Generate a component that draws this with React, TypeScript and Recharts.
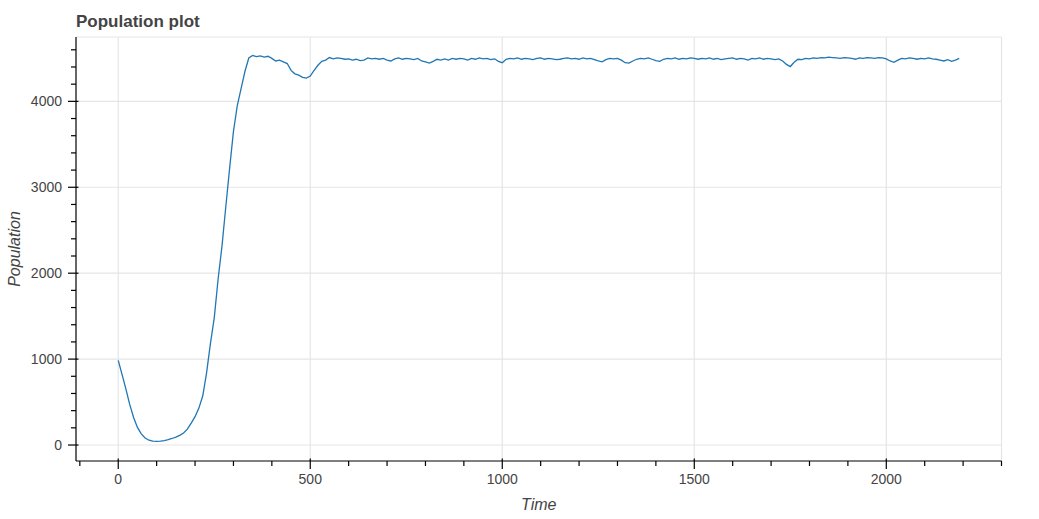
import { LineChart, Line, XAxis, YAxis, CartesianGrid } from 'recharts';

const TIME_STEP = 10;
const POPULATION = [
  985, 820, 650, 470, 320, 205, 130, 82, 56, 45,
  42, 45, 52, 63, 76, 92, 112, 140, 185, 255,
  330, 430, 570, 840, 1180, 1480, 1930, 2310, 2770, 3220,
  3650, 3950, 4150, 4350, 4505, 4535, 4520, 4530, 4515, 4525,
  4500, 4470, 4480, 4460, 4440, 4360, 4320, 4305, 4280, 4270,
  4295, 4360, 4420, 4465, 4480, 4510, 4495, 4505, 4500, 4490,
  4495, 4480, 4490, 4475, 4480, 4505, 4495, 4500, 4490, 4500,
  4480, 4470, 4495, 4505, 4490, 4500, 4495, 4485, 4500, 4470,
  4460, 4445, 4465, 4490, 4480, 4495, 4480, 4500, 4490, 4500,
  4495, 4480, 4500, 4490, 4505, 4495, 4500, 4485, 4495, 4465,
  4450, 4490, 4500, 4495, 4505, 4490, 4500, 4495, 4485, 4500,
  4505, 4490, 4500, 4495, 4485, 4490, 4500, 4505, 4495, 4500,
  4490, 4505, 4495, 4500, 4485, 4470, 4460, 4485, 4500, 4495,
  4500, 4480, 4450, 4445, 4470, 4490, 4500, 4495, 4505, 4490,
  4475, 4465, 4490, 4500, 4495, 4505, 4490, 4500, 4495, 4505,
  4500, 4490, 4500, 4495, 4505, 4490, 4500, 4485, 4495, 4500,
  4505, 4490, 4500, 4495, 4480, 4500, 4495, 4505, 4490, 4500,
  4495, 4485, 4495, 4470, 4430, 4405, 4455, 4490, 4485, 4500,
  4495, 4505, 4500, 4510, 4505, 4515, 4510, 4505, 4500, 4510,
  4505, 4500, 4490, 4505, 4500, 4510, 4505, 4500, 4510, 4505,
  4495, 4470, 4455, 4480, 4500, 4495, 4505, 4500, 4490, 4500,
  4495, 4505, 4495, 4490, 4480, 4470, 4485, 4465, 4480, 4500,
];

const X_MAJOR = [0, 500, 1000, 1500, 2000];
const X_TICKS = [
  -100, 0, 100, 200, 300, 400, 500, 600, 700, 800, 900, 1000, 1100, 1200,
  1300, 1400, 1500, 1600, 1700, 1800, 1900, 2000, 2100, 2200, 2300,
];
const Y_MAJOR = [0, 1000, 2000, 3000, 4000];
const Y_TICKS = [
  0, 200, 400, 600, 800, 1000, 1200, 1400, 1600, 1800, 2000, 2200, 2400,
  2600, 2800, 3000, 3200, 3400, 3600, 3800, 4000, 4200, 4400, 4600,
];

const X_DOMAIN = [-110, 2300];
const Y_DOMAIN = [-186, 4749];

const data = POPULATION.map((pop, i) => ({ time: i * TIME_STEP, pop }));

const FONT = '"Liberation Sans", Helvetica, Arial, sans-serif';
const TEXT = '#444444';

function XTick({ x, y, payload }: any) {
  const major = X_MAJOR.includes(payload.value);
  return (
    <g>
      <line x1={x} x2={x} y1={y - (major ? 2.5 : 0)} y2={y + (major ? 8 : 5)} stroke="#000" strokeWidth={1.2} />
      {major && (
        <text x={x} y={y + 23} textAnchor="middle" fill={TEXT} fontSize={14} fontFamily={FONT}>
          {payload.value}
        </text>
      )}
    </g>
  );
}

function YTick({ x, y, payload }: any) {
  const major = Y_MAJOR.includes(payload.value);
  return (
    <g>
      <line x1={x + (major ? 2.5 : 0)} x2={x - (major ? 8 : 5)} y1={y} y2={y} stroke="#000" strokeWidth={1.2} />
      {major && (
        <text x={x - 14} y={y + 5} textAnchor="end" fill={TEXT} fontSize={14} fontFamily={FONT}>
          {payload.value}
        </text>
      )}
    </g>
  );
}

export default function App() {
  return (
    <div style={{ position: 'absolute', left: 0, top: 0, width: 1039, height: 519, background: '#fff' }}>
      <div
        style={{
          position: 'absolute', left: 76, top: 12, fontFamily: FONT, fontSize: 17,
          fontWeight: 'bold', color: TEXT, whiteSpace: 'nowrap',
        }}
      >
        Population plot
      </div>
      <LineChart
        width={1039}
        height={519}
        data={data}
        margin={{ top: 37, right: 37.5, bottom: 0, left: 0 }}
      >
        <CartesianGrid
          stroke="#e5e5e5"
          strokeWidth={1.2}
          horizontalValues={[...Y_MAJOR, Y_DOMAIN[1]]}
          verticalValues={[...X_MAJOR, X_DOMAIN[1]]}
        />
        <XAxis
          dataKey="time"
          type="number"
          domain={X_DOMAIN}
          allowDataOverflow
          ticks={X_TICKS}
          interval={0}
          height={58}
          tickSize={0}
          tickMargin={0}
          tickLine={false}
          axisLine={{ stroke: '#000', strokeWidth: 1.2 }}
          tick={<XTick />}
        />
        <YAxis
          type="number"
          domain={Y_DOMAIN}
          allowDataOverflow
          ticks={Y_TICKS}
          interval={0}
          width={76}
          tickSize={0}
          tickMargin={0}
          tickLine={false}
          axisLine={{ stroke: '#000', strokeWidth: 1.2 }}
          tick={<YTick />}
        />
        <Line
          type="linear"
          dataKey="pop"
          stroke="#1f77b4"
          strokeWidth={1.3}
          dot={false}
          isAnimationActive={false}
        />
      </LineChart>
      <div
        style={{
          position: 'absolute', left: 76, width: 925.5, top: 496, textAlign: 'center',
          fontFamily: FONT, fontSize: 16, fontStyle: 'italic', color: TEXT,
        }}
      >
        Time
      </div>
      <div
        style={{
          position: 'absolute', left: 8, top: 249, width: 0, height: 0,
          fontFamily: FONT, fontSize: 16, fontStyle: 'italic', color: TEXT,
        }}
      >
        <div style={{ position: 'absolute', transform: 'translate(-50%, -50%) rotate(-90deg)', left: 7, top: 0, whiteSpace: 'nowrap' }}>
          Population
        </div>
      </div>
    </div>
  );
}
